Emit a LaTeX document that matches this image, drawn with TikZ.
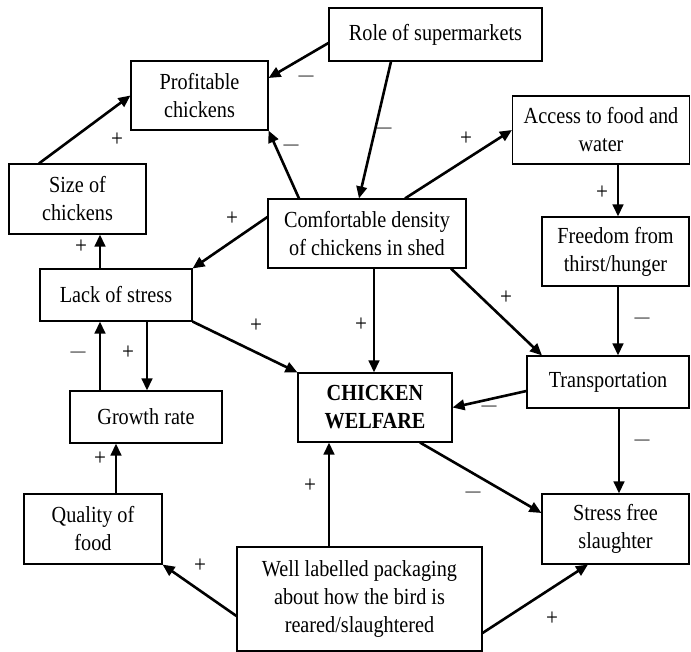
\documentclass[tikz,border=0pt]{standalone}
\usepackage{fontspec}
\setmainfont{Liberation Serif}[FakeStretch=0.88]
\usetikzlibrary{arrows.meta}

\tikzset{
  box/.style={draw, line width=1.1pt, align=center, inner sep=0pt, font=\fontsize{23}{28}\selectfont},
  possign/.style={inner sep=0pt, font=\fontsize{24}{26}\selectfont},
  negsign/.style={inner sep=0pt, font=\fontsize{17}{20}\selectfont},
  link/.style={line width=2.6pt, -{Triangle[length=12pt,width=10.5pt]}}
}

\begin{document}
\begin{tikzpicture}[x=1pt, y=-1pt]
    \useasboundingbox (0,0) rectangle (691,652);

    \node[box, minimum width=213pt, minimum height=53pt] (role) at (435.5,34.5) {Role of supermarkets};
    \node[box, minimum width=137pt, minimum height=69pt] (prof) at (199.5,95.5) {Profitable\\chickens};
    \node[box, minimum width=177pt, minimum height=68pt] (access) at (601,130) {Access to food and\\water};
    \node[box, minimum width=137pt, minimum height=70pt] (size) at (77.5,199) {Size of\\chickens};
    \node[box, minimum width=198pt, minimum height=69pt] (comf) at (367,233.5) {Comfortable density\\of chickens in shed};
    \node[box, minimum width=147pt, minimum height=69pt] (freedom) at (615.5,251.5) {Freedom from\\thirst/hunger};
    \node[box, minimum width=152pt, minimum height=52pt] (lack) at (116,295) {Lack of stress};
    \node[box, minimum width=162pt, minimum height=52pt] (trans) at (608,382) {Transportation};
    \node[box, minimum width=154pt, minimum height=69pt, font=\fontsize{23}{28}\selectfont\bfseries] (welfare) at (375,407.5) {CHICKEN\\WELFARE};
    \node[box, minimum width=152pt, minimum height=52pt] (growth) at (146,417) {Growth rate};
    \node[box, minimum width=138pt, minimum height=70pt] (quality) at (93,529) {Quality of\\food};
    \node[box, minimum width=147pt, minimum height=70pt] (slaughter) at (615.5,529) {Stress free\\slaughter};
    \node[box, minimum width=245pt, minimum height=104pt] (label) at (359.5,599) {Well labelled packaging\\about how the bird is\\reared/slaughtered};

    % links
    \draw[link] ([yshift=-8.5pt]role.west) -- ([yshift=17.5pt]prof.east);
    \draw[link] ([xshift=-44.5pt]role.south) -- ([xshift=-8pt]comf.north);
    \draw[link] ([xshift=-68pt]comf.north) -- (prof.south east);
    \draw[link] ([xshift=-38.5pt]size.north) -- (prof.west);
    \draw[link] ([yshift=16.5pt]comf.west) -- (lack.north east);
    \draw[link] ([xshift=-16pt]lack.north) -- ([xshift=22.5pt]size.south);
    \draw[link] ([xshift=38pt]comf.north) -- (access.west);
    \draw[link] ([xshift=17pt]access.south) -- ([xshift=2.5pt]freedom.north);
    \draw[link] ([xshift=2.5pt]freedom.south) -- ([xshift=10pt]trans.north);
    \draw[link] ([xshift=84pt]comf.south) -- ([xshift=-66pt]trans.north);
    \draw[link] ([xshift=7pt]comf.south) -- ([xshift=-1pt]welfare.north);
    \draw[link] (lack.south east) -- (welfare.north west);
    \draw[link] ([xshift=-46pt]growth.north) -- ([xshift=-16pt]lack.south);
    \draw[link] ([xshift=31pt]lack.south) -- ([xshift=1pt]growth.north);
    \draw[link] ([xshift=23pt]quality.north) -- ([xshift=-30pt]growth.south);
    \draw[link] ([yshift=-17pt]label.west) -- (quality.south east);
    \draw[link] ([xshift=-30.5pt]label.north) -- ([xshift=-46pt]welfare.south);
    \draw[link] ([yshift=-34pt]label.east) -- ([xshift=-27.5pt]slaughter.south);
    \draw[link] ([yshift=-9pt]trans.west) -- (welfare.east);
    \draw[link] ([xshift=11pt]trans.south) -- ([xshift=3.5pt]slaughter.north);
    \draw[link] ([xshift=45pt]welfare.south) -- ([yshift=16pt]slaughter.west);

    % signs
    \node[negsign] (s1) at (306,78) {—};
    \node[negsign] (s2) at (384,130) {—};
    \node[negsign] (s3) at (291,147) {—};
    \node[possign] (s4) at (117,140) {+};
    \node[possign] (s5) at (232,219) {+};
    \node[possign] (s6) at (81,247) {+};
    \node[possign] (s7) at (466,139) {+};
    \node[possign] (s8) at (602,193) {+};
    \node[negsign] (s9) at (642,320) {—};
    \node[possign] (s10) at (506,298) {+};
    \node[possign] (s11) at (361,325) {+};
    \node[possign] (s12) at (256,326) {+};
    \node[negsign] (s13) at (78,354) {—};
    \node[possign] (s14) at (128,353) {+};
    \node[possign] (s15) at (100,459) {+};
    \node[possign] (s16) at (200,566) {+};
    \node[possign] (s17) at (310,486) {+};
    \node[possign] (s18) at (552,619) {+};
    \node[negsign] (s19) at (489,408) {—};
    \node[negsign] (s20) at (642,442) {—};
    \node[negsign] (s21) at (473,494) {—};
\end{tikzpicture}
\end{document}
